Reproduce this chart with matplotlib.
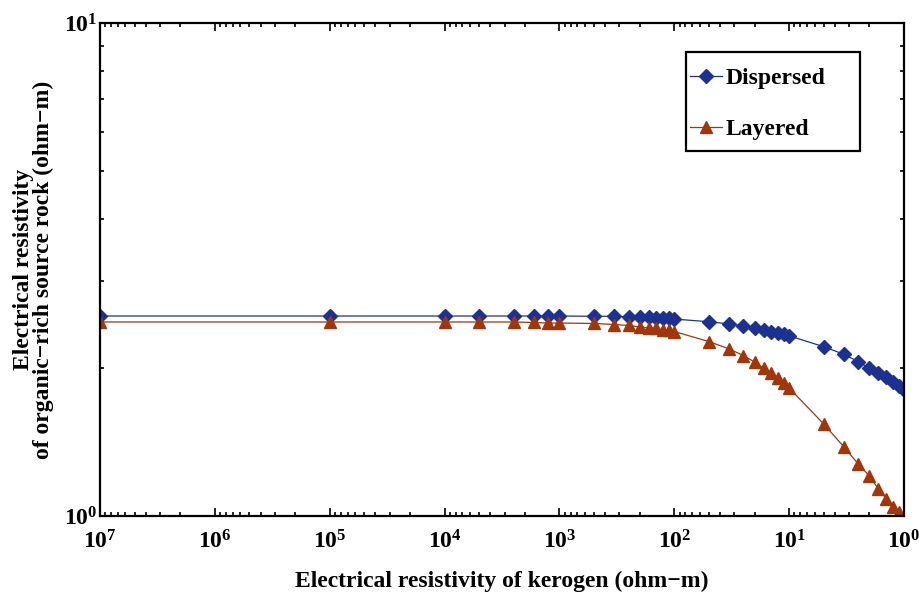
import matplotlib
matplotlib.use("Agg")
from matplotlib import pyplot as plt
from matplotlib.patches import Rectangle
from matplotlib.ticker import NullFormatter

# kerogen resistivity (ohm-m)
kerogen = [1e7, 1e5, 1e4, 5000, 2500, 1667, 1250, 1000,
           500, 333.3, 250, 200, 166.7, 142.9, 125, 111.1, 100,
           50, 33.3, 25, 20, 16.7, 14.3, 12.5, 11.1, 10,
           5, 3.33, 2.5, 2, 1.67, 1.43, 1.25, 1.11, 1]

dispersed = [2.545, 2.545, 2.545, 2.545, 2.545, 2.545, 2.545, 2.545,
             2.542, 2.542, 2.533, 2.533, 2.530, 2.521, 2.521, 2.518, 2.509,
             2.478, 2.452, 2.429, 2.403, 2.384, 2.365, 2.353, 2.339, 2.320,
             2.205, 2.128, 2.056, 1.994, 1.953, 1.911, 1.873, 1.835, 1.801]

layered = [2.475, 2.475, 2.475, 2.475, 2.475, 2.469, 2.463, 2.463,
           2.458, 2.446, 2.435, 2.418, 2.406, 2.401, 2.384, 2.379, 2.367,
           2.259, 2.182, 2.116, 2.053, 1.996, 1.950, 1.901, 1.861, 1.818,
           1.537, 1.380, 1.275, 1.205, 1.134, 1.085, 1.045, 1.019, 1.0]

x_ticks = [1e7, 1e6, 1e5, 1e4, 1e3, 1e2, 1e1, 1e0]
x_tick_labels = [r"$\mathbf{10^{%d}}$" % e for e in [7, 6, 5, 4, 3, 2, 1, 0]]
y_ticks = [1, 10]
y_tick_labels = [r"$\mathbf{10^{0}}$", r"$\mathbf{10^{1}}$"]

BLUE = "#1c3191"
RED = "#a0360a"

plt.rcParams["font.family"] = ["Liberation Serif", "DejaVu Serif"]
plt.rcParams["font.weight"] = "bold"
plt.rcParams["mathtext.fontset"] = "custom"
plt.rcParams["mathtext.rm"] = "Liberation Serif:bold"
plt.rcParams["mathtext.bf"] = "Liberation Serif:bold"

fig = plt.figure(figsize=(9.19, 5.96), dpi=100)
ax = fig.add_axes([0.1088, 0.1342, 0.8749, 0.8272])

ax.plot(kerogen, dispersed, color=BLUE, lw=0.9, marker="D", ms=7,
        mfc=BLUE, mec=BLUE, label="Dispersed")
ax.plot(kerogen, layered, color=RED, lw=0.9, marker="^", ms=8.5,
        mfc=RED, mec=RED, label="Layered")

ax.set_xscale("log")
ax.set_yscale("log")
ax.set_xlim(1e7, 1)
ax.set_ylim(1, 10)

ax.set_xticks(x_ticks)
ax.set_xticklabels(x_tick_labels, fontsize=17)
ax.set_yticks(y_ticks)
ax.set_yticklabels(y_tick_labels, fontsize=17)
ax.xaxis.set_minor_formatter(NullFormatter())
ax.yaxis.set_minor_formatter(NullFormatter())

ax.tick_params(which="both", direction="in", top=True, right=True, width=1.2)
ax.tick_params(which="major", length=6)
ax.tick_params(axis="x", which="major", pad=10)
ax.tick_params(axis="y", which="major", pad=2)
ax.tick_params(which="minor", length=3)
for s in ax.spines.values():
    s.set_linewidth(1.6)

ax.set_xlabel("Electrical resistivity of kerogen (ohm\u2212m)",
              fontsize=17, fontweight="bold", labelpad=13)
ax.set_ylabel("Electrical resistivity\nof organic\u2212rich source rock (ohm\u2212m)",
              fontsize=17, fontweight="bold", labelpad=7, linespacing=0.95)

# legend without its own frame, boxed like the original
leg = ax.legend(loc="upper left", bbox_to_anchor=(0.734, 0.909),
                borderaxespad=0, borderpad=0, fontsize=17, labelspacing=1.23,
                handlelength=1.35, handletextpad=0.15, frameon=False)
for t in leg.get_texts():
    t.set_fontweight("bold")
ax.add_patch(Rectangle((0.729, 0.740), 0.2164, 0.2008, transform=ax.transAxes,
                       facecolor="white", edgecolor="black", lw=1.6, zorder=4))
leg.set_zorder(5)

fig.savefig("out.png", dpi=100)
